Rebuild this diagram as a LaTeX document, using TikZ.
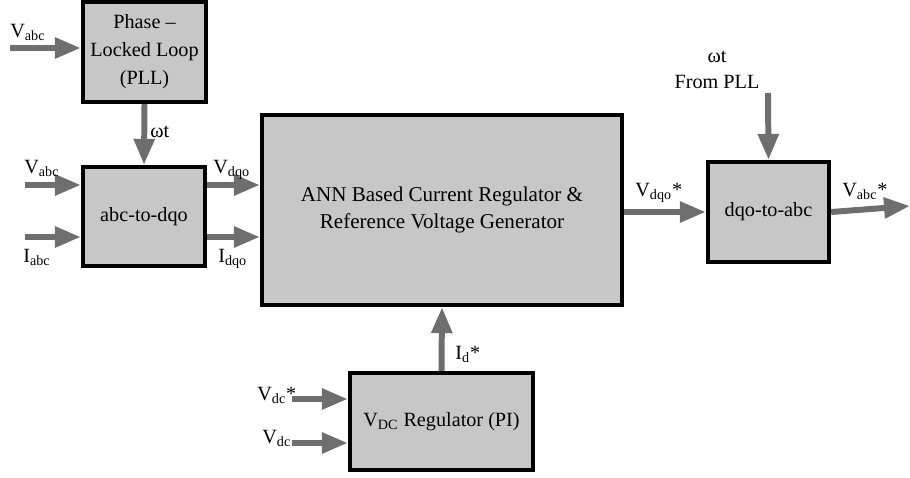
\documentclass[tikz,border=0pt]{standalone}
\usepackage{fontspec}
\setmainfont{Liberation Serif}
\usetikzlibrary{arrows.meta,positioning}
\definecolor{boxgray}{RGB}{199,199,199}
\definecolor{arrowgray}{RGB}{110,110,110}
\newcommand{\sub}[1]{\textsubscript{#1}}

\begin{document}
\begin{tikzpicture}[
    x=0.02cm, y=-0.02cm,
    font=\fontsize{11.5}{14}\selectfont,
    >={Triangle[length=0.52cm, width=0.4cm]},
    blk/.style={draw, line width=2.5pt, fill=boxgray, align=center, inner sep=2pt},
    sig/.style={->, draw=arrowgray, line width=3.4pt},
    lbl/.style={inner sep=0pt, anchor=base west},
]
\useasboundingbox (0,0) rectangle (910,477);

% ---- blocks ----
\node[blk, minimum width=2.46cm, minimum height=2cm,
      font=\fontsize{11.5}{16}\selectfont] (pll) at (144.5,52) {Phase –\\Locked Loop\\(PLL)};
\node[blk, minimum width=2.44cm, minimum height=1.98cm] (abc) at (144,216.5) {abc-to-dqo};
\node[blk, minimum width=7.2cm, minimum height=3.8cm,
      font=\fontsize{12}{15.5}\selectfont] (ann) at (442,210)
    {ANN Based Current Regulator \&\\Reference Voltage Generator};
\node[blk, minimum width=2.42cm, minimum height=2cm] (dqo) at (768.5,212) {dqo-to-abc};
\node[blk, minimum width=3.66cm, minimum height=1.94cm] (vdc) at (441.5,421.5)
    {V\sub{DC} Regulator (PI)};

% ---- free ends ----
\coordinate (vpll) at (10,48);
\coordinate (va) at (25,185);
\coordinate (ia) at (25,237);
\coordinate (wt) at (768,93);
\coordinate (vout) at (910,206);
\coordinate (vdcref) at (292,399);
\coordinate (vdcm) at (292,443);

% ---- connectors ----
\draw[sig] (vpll) -- (vpll -| pll.west);
\draw[sig] (pll.south) -- (abc.north);
\draw[sig] (va) -- (va -| abc.west);
\draw[sig] (ia) -- (ia -| abc.west);
\draw[sig] (abc.east |- va) -- (ann.west |- va);
\draw[sig] (abc.east |- ia) -- (ann.west |- ia);
\draw[sig] (ann.east |- dqo.west) -- (dqo.west);
\draw[sig] (wt) -- (dqo.north);
\draw[sig] (dqo.east) -- (vout);
\draw[sig] (vdc.north) -- (ann.south);
\draw[sig] (vdcref) -- (vdcref -| vdc.west);
\draw[sig] (vdcm) -- (vdcm -| vdc.west);

% ---- labels ----
\node[lbl] (lvpll) at (10,37) {V\sub{abc}};
\node[lbl] (lwt) at (150,137) {ωt};
\node[lbl] (lva) at (24,173) {V\sub{abc}};
\node[lbl] (lia) at (23,262) {I\sub{abc}};
\node[lbl] (lvdqo) at (213,173) {V\sub{dqo}};
\node[lbl] (lidqo) at (218,262) {I\sub{dqo}};
\node[lbl] (lvref) at (635,196) {V\sub{dqo}*};
\node[lbl] (lvout) at (842,196) {V\sub{abc}*};
\node[align=center, inner sep=0pt, anchor=base, font=\fontsize{11.5}{14.7}\selectfont]
    (lfrom) at (717,88) {ωt\\From PLL};
\node[lbl] (lid) at (455,359) {I\sub{d}*};
\node[lbl] (lvdcref) at (257,400) {V\sub{dc}*};
\node[lbl] (lvdc) at (262,443) {V\sub{dc}};
\end{tikzpicture}
\end{document}
